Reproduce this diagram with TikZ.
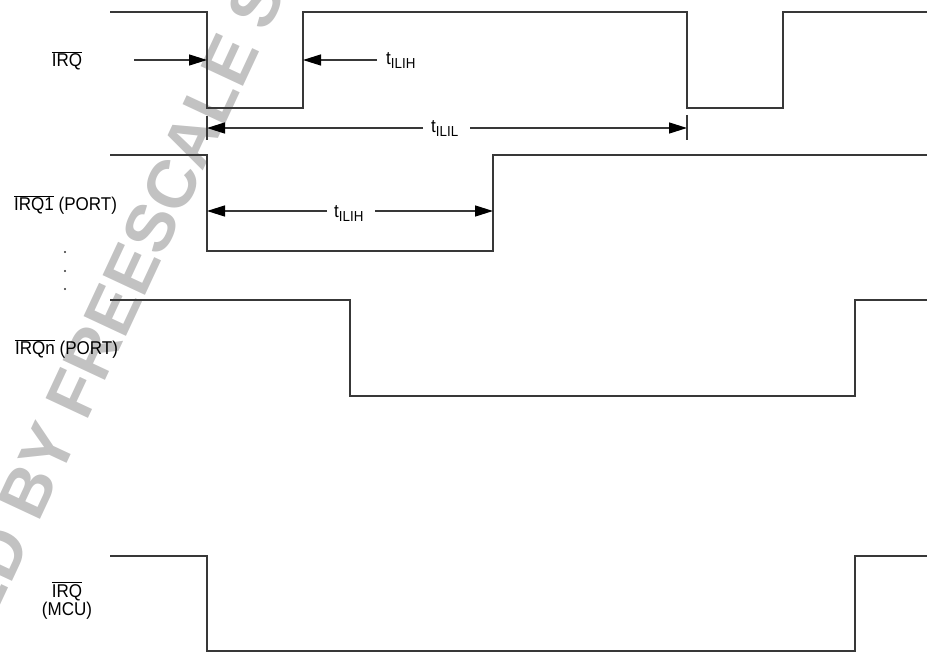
\documentclass[tikz,border=0pt]{standalone}
\usepackage{fontspec}
\setmainfont{Liberation Sans}[FakeStretch=0.92]
\newfontfamily\wmfont{Liberation Sans}
\usetikzlibrary{arrows.meta}
\newcommand{\ovl}[1]{$\overline{\hbox{#1}}$}
\newcommand{\tsub}[1]{t\raisebox{-3.8pt}{\fontsize{14.5}{16}\selectfont #1}}
\begin{document}
\begin{tikzpicture}[x=1pt,y=-1pt,
  sig/.style={line width=1.4pt, draw=black!78, line join=miter},
  arr/.style={line width=1.4pt, draw=black!78, -{Triangle[length=18pt,width=11pt,color=black]}},
  tick/.style={line width=1.4pt, draw=black!78},
  lbl/.style={inner sep=0pt, font=\fontsize{18.5}{20}\selectfont},
  wm/.style={inner sep=0pt, rotate=65, text=black!24, font=\wmfont\bfseries\fontsize{68}{74}\selectfont}]
\useasboundingbox (0,0) rectangle (927,652);
\clip (0,0) rectangle (927,652);
% watermark
\node[wm, anchor=center] (wmc) at (152,226) {FREESCALE};
\node[wm, anchor=base east] (wml) at (wmc.base west) {ARCHIVED BY\rule{0.25em}{0pt}};
\node[wm, anchor=base west] (wmr) at (wmc.base east) {\rule{0.25em}{0pt}SEMICONDUCTOR};
% signals
\draw[sig] (110,12) -- (207,12) -- (207,108) -- (303,108) -- (303,12) -- (687,12) -- (687,108) -- (783,108) -- (783,12) -- (930,12);
\draw[sig] (110,155) -- (207,155) -- (207,251) -- (493,251) -- (493,155) -- (930,155);
\draw[sig] (110,300) -- (350,300) -- (350,396) -- (855,396) -- (855,300) -- (930,300);
\draw[sig] (110,556) -- (207,556) -- (207,651) -- (855,651) -- (855,556) -- (930,556);
% labels
\node[lbl, anchor=base] (lirq) at (67,66.7) {\ovl{IRQ}};
\node[lbl, anchor=base west] (lirq1) at (14,210.5) {\ovl{IRQ1} (PORT)};
\node[lbl, anchor=base west] (lirqn) at (15,355) {\ovl{IRQn} (PORT)};
\node[lbl, anchor=base] (lmcu) at (67,597) {\ovl{IRQ}};
\node[lbl, anchor=base] (lmcu2) at (67,615.5) {(MCU)};
\fill[black!80] (65,252) circle (1.1) (65,271) circle (1.1) (65,289) circle (1.1);
% timing labels
\node[lbl, anchor=base west] (tA) at (386,65) {\tsub{ILIH}};
\node[lbl, anchor=base west] (tB) at (431,133) {\tsub{ILIL}};
\node[lbl, anchor=base west] (tC) at (334,218) {\tsub{ILIH}};
% arrow coordinates
\coordinate (a1s) at (134,60);  \coordinate (a1e) at (207,60);
\coordinate (a2s) at (377,60);  \coordinate (a2e) at (303,60);
\coordinate (b1s) at (423,128); \coordinate (b1e) at (207,128);
\coordinate (b2s) at (470,128); \coordinate (b2e) at (687,128);
\coordinate (c1s) at (327,211); \coordinate (c1e) at (207,211);
\coordinate (c2s) at (375,211); \coordinate (c2e) at (493,211);
\coordinate (k1t) at (207,116); \coordinate (k1b) at (207,140);
\coordinate (k2t) at (687,115); \coordinate (k2b) at (687,140);
\draw[arr] (a1s) -- (a1e);
\draw[arr] (a2s) -- (a2e);
\draw[arr] (b1s) -- (b1e);
\draw[arr] (b2s) -- (b2e);
\draw[arr] (c1s) -- (c1e);
\draw[arr] (c2s) -- (c2e);
\draw[tick] (k1t) -- (k1b);
\draw[tick] (k2t) -- (k2b);
\end{tikzpicture}
\end{document}
